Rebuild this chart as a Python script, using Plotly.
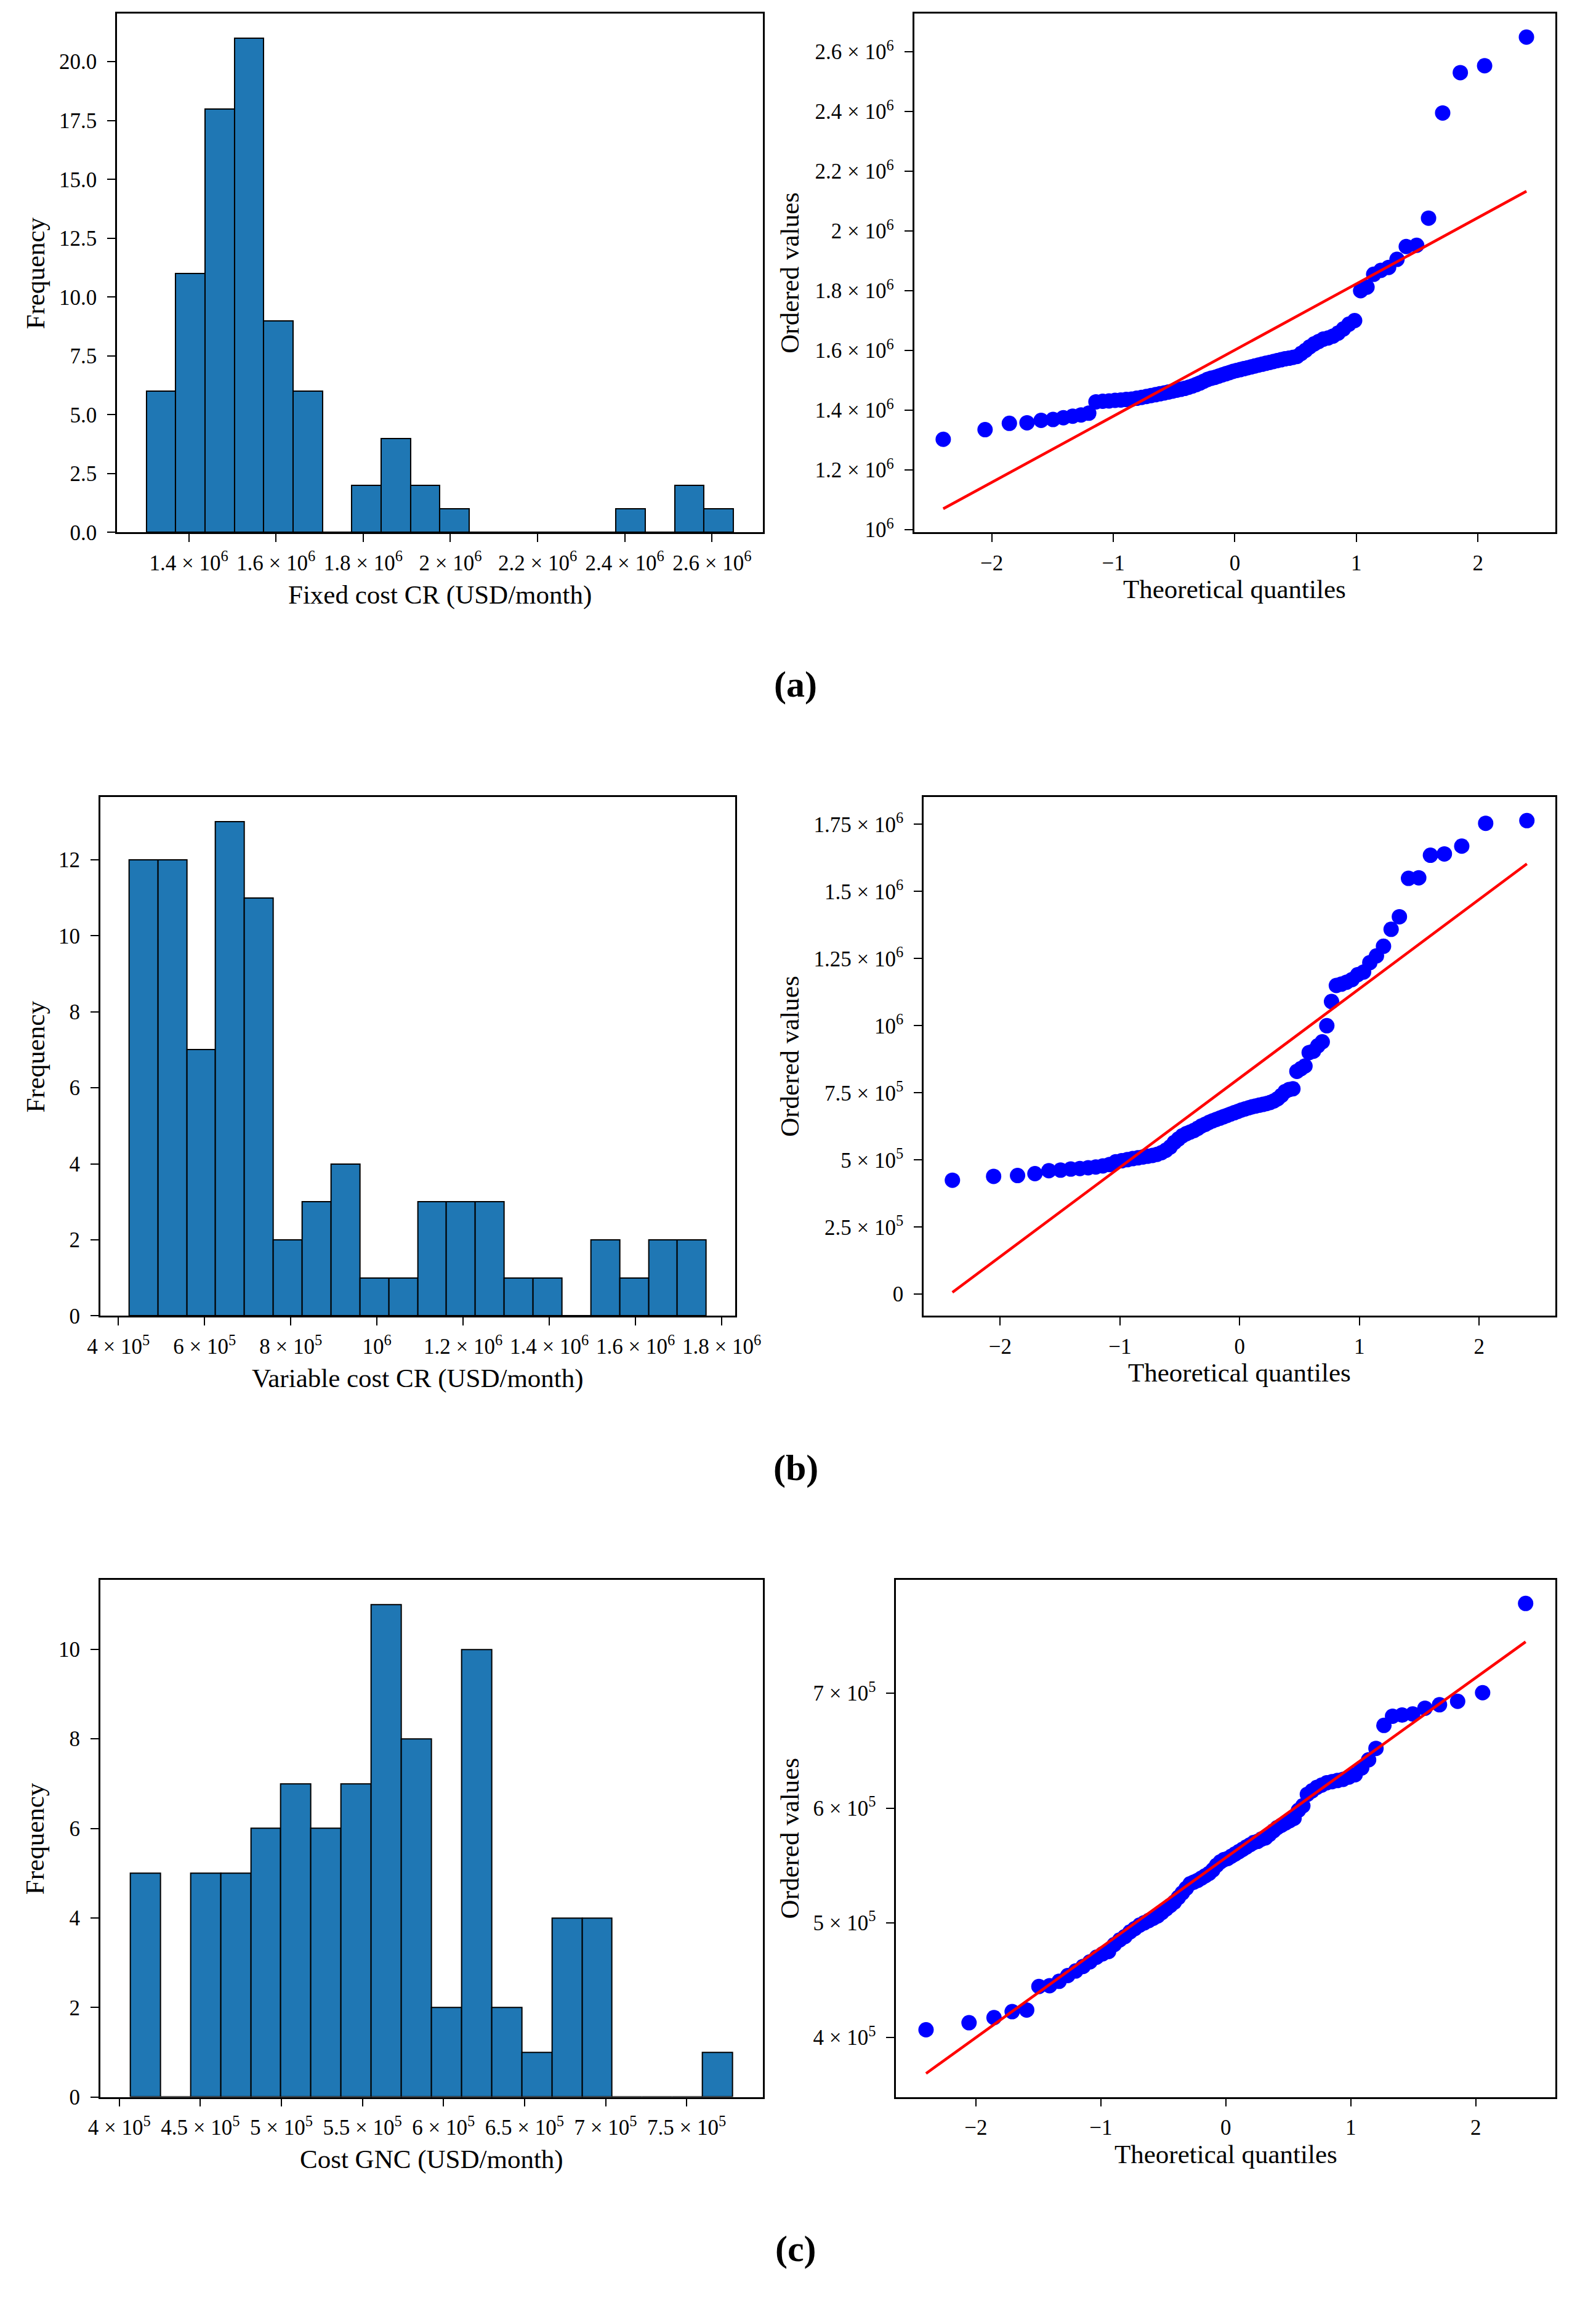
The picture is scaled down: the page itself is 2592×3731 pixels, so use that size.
import plotly.graph_objects as go
from statistics import NormalDist

# ---------------- data ----------------
# sorted sample values (84 runs each)
fixed_cr = [1.3026, 1.335, 1.356, 1.358, 1.366, 1.369,
            1.375, 1.380, 1.384, 1.390, 1.428, 1.430, 1.431, 1.433, 1.434, 1.436, 1.437,
            1.440, 1.443, 1.446, 1.449, 1.452, 1.455, 1.458, 1.461, 1.464, 1.467, 1.470,
            1.473, 1.477, 1.481, 1.486, 1.491, 1.497, 1.503,
            1.507, 1.510, 1.514, 1.518, 1.522, 1.526, 1.530, 1.533, 1.536, 1.539, 1.542,
            1.545, 1.548, 1.551, 1.554, 1.557, 1.560, 1.563, 1.566, 1.569, 1.572,
            1.574, 1.577, 1.580, 1.590, 1.600, 1.612, 1.622, 1.630, 1.638,
            1.642, 1.648, 1.658, 1.672, 1.688, 1.700,
            1.800, 1.812, 1.855, 1.868, 1.878, 1.905, 1.948, 1.952, 2.043, 2.395,
            2.530, 2.553, 2.649]
fixed_cr = [v * 1e6 for v in fixed_cr]

variable_cr = [0.4246, 0.439, 0.442, 0.449, 0.460, 0.462, 0.466, 0.468, 0.471, 0.474, 0.478, 0.483,
               0.493, 0.497, 0.501, 0.505, 0.508, 0.511, 0.514, 0.517, 0.521, 0.527, 0.536, 0.548,
               0.565, 0.578, 0.590, 0.598, 0.604, 0.610, 0.618,
               0.627, 0.633, 0.640, 0.646, 0.651, 0.656, 0.661, 0.666, 0.671, 0.676, 0.681, 0.686, 0.690,
               0.694, 0.698, 0.701, 0.704, 0.707, 0.710, 0.714, 0.720, 0.728, 0.740, 0.755,
               0.762, 0.765, 0.830, 0.840, 0.850, 0.900, 0.905, 0.925, 0.940,
               1.000, 1.090, 1.150, 1.155, 1.162, 1.172, 1.190, 1.200, 1.235, 1.260, 1.296,
               1.359, 1.406, 1.549, 1.551, 1.635, 1.640, 1.669, 1.754, 1.764]
variable_cr = [v * 1e6 for v in variable_cr]

cost_gnc = [4.068, 4.129, 4.174, 4.226, 4.240,
            4.445, 4.452, 4.490, 4.540, 4.580,
            4.620, 4.660, 4.700, 4.730, 4.750,
            4.810, 4.850, 4.880, 4.920, 4.950, 4.980,
            5.000, 5.020, 5.040, 5.060, 5.090, 5.120, 5.150,
            5.180, 5.220, 5.260, 5.300, 5.340, 5.355,
            5.370, 5.390, 5.410, 5.430, 5.460, 5.500, 5.530,
            5.550, 5.560, 5.580, 5.600, 5.620, 5.640, 5.660, 5.680, 5.700, 5.710, 5.730,
            5.740, 5.770, 5.800, 5.830, 5.850, 5.870, 5.890, 5.910,
            5.980, 6.020,
            6.120, 6.150, 6.180, 6.200, 6.220, 6.230, 6.240, 6.250, 6.270, 6.290,
            6.350, 6.420, 6.520, 6.720, 6.800, 6.810, 6.820,
            6.870, 6.900, 6.930, 7.005, 7.783]
cost_gnc = [v * 1e5 for v in cost_gnc]

# histogram counts (20 bins between min and max)
counts_fixed = [6, 11, 18, 21, 9, 6, 0, 2, 4, 2, 1, 0, 0, 0, 0, 0, 1, 0, 2, 1]
counts_variable = [12, 12, 7, 13, 11, 2, 3, 4, 1, 1, 3, 3, 3, 1, 1, 0, 2, 1, 2, 2]
counts_gnc = [5, 0, 5, 5, 6, 7, 6, 7, 11, 8, 2, 10, 2, 1, 4, 4, 0, 0, 0, 1]

# fitted line values at the lowest / highest theoretical quantile
fit_fixed = [1.070e6, 2.133e6]
fit_variable = [0.007e6, 1.603e6]
fit_gnc = [3.687e5, 7.449e5]

# tick labels
hist_fixed_ticks = [1.4e6, 1.6e6, 1.8e6, 2.0e6, 2.2e6, 2.4e6, 2.6e6]
hist_fixed_text = ["1.4 × 10<sup>6</sup>", "1.6 × 10<sup>6</sup>", "1.8 × 10<sup>6</sup>",
                   "2 × 10<sup>6</sup>", "2.2 × 10<sup>6</sup>", "2.4 × 10<sup>6</sup>",
                   "2.6 × 10<sup>6</sup>"]
hist_variable_ticks = [4e5, 6e5, 8e5, 1e6, 1.2e6, 1.4e6, 1.6e6, 1.8e6]
hist_variable_text = ["4 × 10<sup>5</sup>", "6 × 10<sup>5</sup>", "8 × 10<sup>5</sup>",
                      "10<sup>6</sup>", "1.2 × 10<sup>6</sup>", "1.4 × 10<sup>6</sup>",
                      "1.6 × 10<sup>6</sup>", "1.8 × 10<sup>6</sup>"]
hist_gnc_ticks = [4e5, 4.5e5, 5e5, 5.5e5, 6e5, 6.5e5, 7e5, 7.5e5]
hist_gnc_text = ["4 × 10<sup>5</sup>", "4.5 × 10<sup>5</sup>", "5 × 10<sup>5</sup>",
                 "5.5 × 10<sup>5</sup>", "6 × 10<sup>5</sup>", "6.5 × 10<sup>5</sup>",
                 "7 × 10<sup>5</sup>", "7.5 × 10<sup>5</sup>"]

qq_fixed_ticks = [1e6, 1.2e6, 1.4e6, 1.6e6, 1.8e6, 2e6, 2.2e6, 2.4e6, 2.6e6]
qq_fixed_text = ["10<sup>6</sup>", "1.2 × 10<sup>6</sup>", "1.4 × 10<sup>6</sup>",
                 "1.6 × 10<sup>6</sup>", "1.8 × 10<sup>6</sup>", "2 × 10<sup>6</sup>",
                 "2.2 × 10<sup>6</sup>", "2.4 × 10<sup>6</sup>", "2.6 × 10<sup>6</sup>"]
qq_variable_ticks = [0, 2.5e5, 5e5, 7.5e5, 1e6, 1.25e6, 1.5e6, 1.75e6]
qq_variable_text = ["0", "2.5 × 10<sup>5</sup>", "5 × 10<sup>5</sup>", "7.5 × 10<sup>5</sup>",
                    "10<sup>6</sup>", "1.25 × 10<sup>6</sup>", "1.5 × 10<sup>6</sup>",
                    "1.75 × 10<sup>6</sup>"]
qq_gnc_ticks = [4e5, 5e5, 6e5, 7e5]
qq_gnc_text = ["4 × 10<sup>5</sup>", "5 × 10<sup>5</sup>", "6 × 10<sup>5</sup>",
               "7 × 10<sup>5</sup>"]

quantile_ticks = [-2, -1, 0, 1, 2]
quantile_text = ["−2", "−1", "0", "1", "2"]

x_titles = ["Fixed cost CR (USD/month)", "Variable cost CR (USD/month)", "Cost GNC (USD/month)"]
panel_tags = ["(a)", "(b)", "(c)"]

# ---------------- helpers ----------------
W, H = 2592, 3731
OFF = 8                      # default body margin of the html page
FW, FH = W - 2 * OFF, H - 2 * OFF
FONT = "Liberation Serif"
TICK_SIZE = 35
TITLE_SIZE = 43


def theo_quantiles(n):
    # Filliben order statistic medians, as used by scipy probplot
    last = 0.5 ** (1.0 / n)
    m = [(i - 0.3175) / (n + 0.365) for i in range(1, n + 1)]
    m[0] = 1 - last
    m[-1] = last
    return [NormalDist().inv_cdf(p) for p in m]


def px(x):
    return (x - OFF) / FW


def py(y):
    return 1 - (y - OFF) / FH


def pad(lo, hi):
    d = (hi - lo) * 0.05
    return [lo - d, hi + d]


axis_style = dict(showline=True, linecolor="black", linewidth=2.5, mirror=True,
                  ticks="outside", ticklen=13, tickwidth=2, tickcolor="black",
                  showgrid=False, zeroline=False,
                  tickfont=dict(family=FONT, size=TICK_SIZE, color="black"))

fig = go.Figure()

panels = [
    (fixed_cr, counts_fixed, fit_fixed, hist_fixed_ticks, hist_fixed_text,
     qq_fixed_ticks, qq_fixed_text, 2.5, ".1f",
     (173, 1248, 22, 869), (1500, 2568, 22, 869)),
    (variable_cr, counts_variable, fit_variable, hist_variable_ticks, hist_variable_text,
     qq_variable_ticks, qq_variable_text, 2, "d",
     (145, 1202, 1301, 2148), (1516, 2568, 1301, 2148)),
    (cost_gnc, counts_gnc, fit_gnc, hist_gnc_ticks, hist_gnc_text,
     qq_gnc_ticks, qq_gnc_text, 2, "d",
     (145, 1248, 2579, 3423), (1470, 2568, 2579, 3423)),
]

layout = {}
annotations = []
for k, (vals, counts, fit, hticks, htext, qticks, qtext, ydt, yfmt, hbox, qbox) in enumerate(panels):
    hx = 2 * k + 1
    qx = 2 * k + 2
    lo, hi = min(vals), max(vals)
    nb = len(counts)
    bw = (hi - lo) / nb
    centers = [lo + bw * (i + 0.5) for i in range(nb)]

    fig.add_trace(go.Bar(x=centers, y=counts, width=bw,
                         marker=dict(color="#1f77b4", line=dict(color="black", width=2)),
                         xaxis=f"x{hx}", yaxis=f"y{hx}", showlegend=False))

    osm = theo_quantiles(len(vals))
    fig.add_trace(go.Scatter(x=osm, y=vals, mode="markers",
                             marker=dict(color="blue", size=25),
                             xaxis=f"x{qx}", yaxis=f"y{qx}", showlegend=False))
    fig.add_trace(go.Scatter(x=[osm[0], osm[-1]], y=fit, mode="lines",
                             line=dict(color="red", width=4.5),
                             xaxis=f"x{qx}", yaxis=f"y{qx}", showlegend=False))

    l, r, t, b = hbox
    layout[f"xaxis{hx}"] = dict(axis_style, domain=[px(l), px(r)], anchor=f"y{hx}",
                                range=pad(lo, hi), tickvals=hticks, ticktext=htext,
                                ticklabelstandoff=4)
    layout[f"yaxis{hx}"] = dict(axis_style, domain=[py(b), py(t)], anchor=f"x{hx}",
                                range=[0, max(counts) * 1.05], dtick=ydt, tick0=0,
                                tickformat=yfmt, ticklabelstandoff=10)
    annotations.append(dict(text=x_titles[k], x=px((l + r) / 2), y=py(b + 102)))
    annotations.append(dict(text="Frequency", x=px(37), y=py((t + b) / 2), textangle=-90))

    l, r, t, b = qbox
    ylo = min(min(vals), min(fit))
    yhi = max(max(vals), max(fit))
    layout[f"xaxis{qx}"] = dict(axis_style, domain=[px(l), px(r)], anchor=f"y{qx}",
                                range=pad(osm[0], osm[-1]), tickvals=quantile_ticks,
                                ticktext=quantile_text, ticklabelstandoff=4)
    layout[f"yaxis{qx}"] = dict(axis_style, domain=[py(b), py(t)], anchor=f"x{qx}",
                                range=pad(ylo, yhi), tickvals=qticks, ticktext=qtext,
                                ticklabelstandoff=10)
    annotations.append(dict(text="Theoretical quantiles", x=px((l + r) / 2), y=py(b + 93)))
    annotations.append(dict(text="Ordered values", x=px(1293), y=py((t + b) / 2),
                            textangle=-90))

    annotations.append(dict(text=f"<b>{panel_tags[k]}</b>", x=px(1303), y=py(b + 248),
                            font=dict(family=FONT, size=60, color="black")))

for a in annotations:
    a.update(xref="paper", yref="paper", showarrow=False, xanchor="center", yanchor="middle")
    a.setdefault("font", dict(family=FONT, size=TITLE_SIZE, color="black"))

fig.update_layout(**layout)
fig.update_layout(width=FW, height=FH, margin=dict(l=0, r=0, t=0, b=0),
                  paper_bgcolor="white", plot_bgcolor="white",
                  annotations=annotations, bargap=0,
                  font=dict(family=FONT, color="black"))

fig.write_html("out.html")
